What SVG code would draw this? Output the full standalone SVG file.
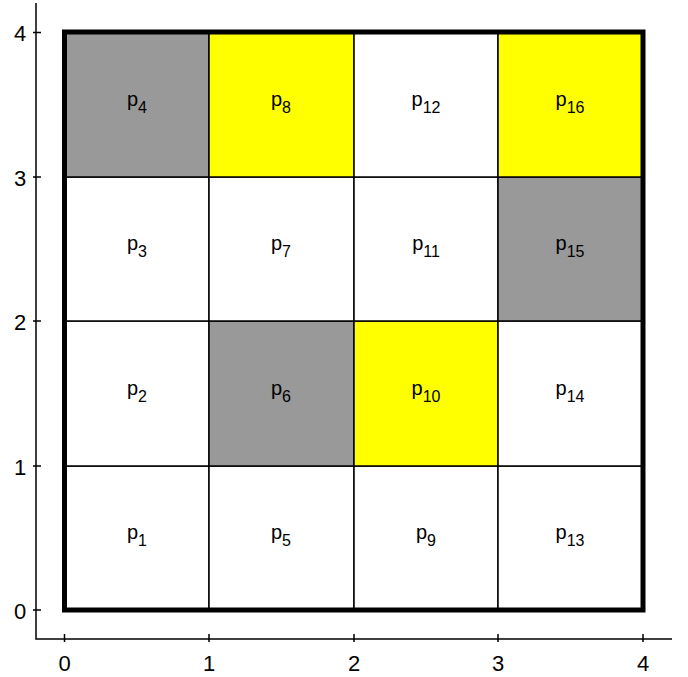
<svg xmlns="http://www.w3.org/2000/svg" width="688" height="677" viewBox="0 0 688 677">
<style>
.cell{stroke:#000;stroke-width:1.5}
.w{fill:#fff}.g{fill:#999}.y{fill:#ffff00}
.lbl{font-family:"Liberation Sans",Arial,sans-serif;font-size:20px;fill:#000;text-anchor:middle}
.sub{font-size:16px}
.tick{font-family:"Liberation Sans",Arial,sans-serif;font-size:22px;fill:#000;text-anchor:middle}
.ax{stroke:#000;stroke-width:1.5;fill:none}
</style>
<rect width="688" height="677" fill="#fff"/>
<g id="axes">
<path class="ax" d="M36 3V639H672"/>
<path class="ax" d="M33 32.5H41M33 177H41M33 321H41M33 466H41M33 610H41"/>
<path class="ax" d="M64.5 634V642M209 634V642M354 634V642M498 634V642M643 634V642"/>
<text class="tick" x="20" y="41">4</text>
<text class="tick" x="20" y="186">3</text>
<text class="tick" x="20" y="330">2</text>
<text class="tick" x="20" y="475">1</text>
<text class="tick" x="20" y="619">0</text>
<text class="tick" x="64.5" y="671">0</text>
<text class="tick" x="209" y="671">1</text>
<text class="tick" x="354" y="671">2</text>
<text class="tick" x="498" y="671">3</text>
<text class="tick" x="643" y="671">4</text>
</g>
<g id="p1"><rect class="cell w" x="64.5" y="466" width="144.5" height="144"/><text class="lbl" x="137" y="539">p<tspan class="sub" dy="7">1</tspan></text></g>
<g id="p2"><rect class="cell w" x="64.5" y="321" width="144.5" height="145"/><text class="lbl" x="137" y="395">p<tspan class="sub" dy="7">2</tspan></text></g>
<g id="p3"><rect class="cell w" x="64.5" y="177" width="144.5" height="144"/><text class="lbl" x="137" y="250">p<tspan class="sub" dy="7">3</tspan></text></g>
<g id="p4"><rect class="cell g" x="64.5" y="32.5" width="144.5" height="144.5"/><text class="lbl" x="137" y="106">p<tspan class="sub" dy="7">4</tspan></text></g>
<g id="p5"><rect class="cell w" x="209" y="466" width="145" height="144"/><text class="lbl" x="281" y="539">p<tspan class="sub" dy="7">5</tspan></text></g>
<g id="p6"><rect class="cell g" x="209" y="321" width="145" height="145"/><text class="lbl" x="281" y="395">p<tspan class="sub" dy="7">6</tspan></text></g>
<g id="p7"><rect class="cell w" x="209" y="177" width="145" height="144"/><text class="lbl" x="281" y="250">p<tspan class="sub" dy="7">7</tspan></text></g>
<g id="p8"><rect class="cell y" x="209" y="32.5" width="145" height="144.5"/><text class="lbl" x="281" y="106">p<tspan class="sub" dy="7">8</tspan></text></g>
<g id="p9"><rect class="cell w" x="354" y="466" width="144" height="144"/><text class="lbl" x="426" y="539">p<tspan class="sub" dy="7">9</tspan></text></g>
<g id="p10"><rect class="cell y" x="354" y="321" width="144" height="145"/><text class="lbl" x="426" y="395">p<tspan class="sub" dy="7">10</tspan></text></g>
<g id="p11"><rect class="cell w" x="354" y="177" width="144" height="144"/><text class="lbl" x="426" y="250">p<tspan class="sub" dy="7">11</tspan></text></g>
<g id="p12"><rect class="cell w" x="354" y="32.5" width="144" height="144.5"/><text class="lbl" x="426" y="106">p<tspan class="sub" dy="7">12</tspan></text></g>
<g id="p13"><rect class="cell w" x="498" y="466" width="145" height="144"/><text class="lbl" x="570" y="539">p<tspan class="sub" dy="7">13</tspan></text></g>
<g id="p14"><rect class="cell w" x="498" y="321" width="145" height="145"/><text class="lbl" x="570" y="395">p<tspan class="sub" dy="7">14</tspan></text></g>
<g id="p15"><rect class="cell g" x="498" y="177" width="145" height="144"/><text class="lbl" x="570" y="250">p<tspan class="sub" dy="7">15</tspan></text></g>
<g id="p16"><rect class="cell y" x="498" y="32.5" width="145" height="144.5"/><text class="lbl" x="570" y="106">p<tspan class="sub" dy="7">16</tspan></text></g>
<g id="border"><rect x="64.5" y="32" width="578.5" height="578" fill="none" stroke="#000" stroke-width="5"/></g>
</svg>
